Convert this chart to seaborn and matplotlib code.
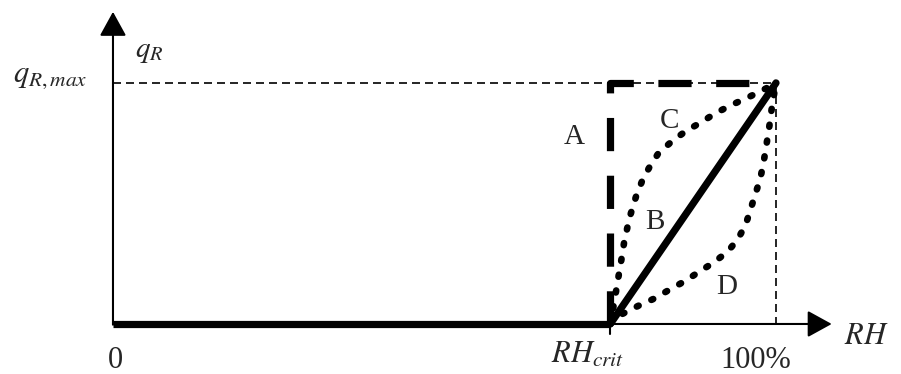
import matplotlib
matplotlib.use('Agg')

import matplotlib.pyplot as plt
import seaborn as sns

sns.set_theme(style='white')
plt.rcParams['font.family'] = ['Liberation Serif', 'DejaVu Serif']
plt.rcParams['mathtext.fontset'] = 'stix'

# values (RH in %, qR as fraction of qR,max)
rh_crit = 75
rh_max = 100

rh_a = [75, 75, 100]
q_a = [0, 1, 1]

rh_b = [75, 100]
q_b = [0, 1]

rh_c = [75, 75.6, 76.2, 76.7, 77.1, 77.9, 78.9, 79.9, 80.9, 82.3,
        84.4, 86.4, 88.9, 90.9, 93.4, 95.8, 98.7, 100]
q_c = [0, 0.09, 0.19, 0.27, 0.34, 0.44, 0.53, 0.6, 0.65, 0.71,
       0.76, 0.8, 0.84, 0.875, 0.91, 0.94, 0.98, 1]

rh_d = [75, 76.7, 79.2, 81.6, 84.1, 86.4, 88.3, 90.6, 92.7, 94.2,
        95.4, 96.1, 96.9, 97.6, 98.1, 98.5, 98.9, 99.2, 99.5, 100]
q_d = [0, 0.04, 0.075, 0.105, 0.145, 0.18, 0.215, 0.255, 0.3, 0.35,
       0.41, 0.47, 0.54, 0.6, 0.665, 0.735, 0.8, 0.865, 0.92, 1]

rh_zero = [0, 75]
q_zero = [0, 0]

fig = plt.figure(figsize=(9.01, 3.74), dpi=100)
ax = fig.add_axes([0, 0, 1, 1])
ax.set_xlim(-17.04, 118.85)
ax.set_ylim(-0.2075, 1.344)
ax.axis('off')

#   axes with arrows
arrow = dict(arrowstyle='-|>,head_length=1.0,head_width=0.55', lw=1.5,
             color='black', shrinkA=0, shrinkB=0, mutation_scale=15)
ax.annotate('', xy=(0, 1.295), xytext=(0, -0.003), arrowprops=arrow)
ax.annotate('', xy=(108.4, 0), xytext=(0, 0), arrowprops=arrow)
ax.plot([rh_crit, rh_crit], [0, -0.042], color='black', lw=1.5)

#   thin guide lines
sns.lineplot(x=[0, rh_max], y=[1, 1], color='black', lw=1.2,
             linestyle=(0, (4.8, 3)), estimator=None, sort=False, ax=ax)
sns.lineplot(x=[rh_max, rh_max], y=[1, 0], color='black', lw=1.2,
             linestyle=(0, (4.8, 3)), estimator=None, sort=False, ax=ax)

#   curves
sns.lineplot(x=rh_zero, y=q_zero, color='black', lw=5.2,
             estimator=None, sort=False, ax=ax, solid_capstyle='butt')
sns.lineplot(x=rh_a, y=q_a, color='black', lw=5.2, linestyle=(0, (4.6, 3.4)),
             estimator=None, sort=False, ax=ax, dash_capstyle='butt')
sns.lineplot(x=rh_b, y=q_b, color='black', lw=5.2,
             estimator=None, sort=False, ax=ax, solid_capstyle='round')
for rh, q in [(rh_c, q_c), (rh_d, q_d)]:
    sns.lineplot(x=rh, y=q, color='black', lw=4.8, linestyle=(0, (0.3, 2.1)),
                 estimator=None, sort=False, ax=ax, dash_capstyle='round')

#   labels
ax.text(3.3, 1.13, r'$q_R$', fontsize=21, ha='left', va='center')
ax.text(-3.8, 1.025, r'$q_{R,max}$', fontsize=22, ha='right', va='center')
ax.text(0.3, -0.183, '0', fontsize=22, ha='center', va='baseline')
ax.text(71.6, -0.16, r'$RH_{crit}$', fontsize=22, ha='center', va='baseline')
ax.text(97.0, -0.183, '100%', fontsize=22, ha='center', va='baseline')
ax.text(113.6, -0.085, r'$RH$', fontsize=22, ha='center', va='baseline')

ax.text(69.5, 0.776, 'A', fontsize=21, ha='center', va='center')
ax.text(81.75, 0.423, 'B', fontsize=21, ha='center', va='center')
ax.text(84.0, 0.842, 'C', fontsize=21, ha='center', va='center')
ax.text(92.5, 0.154, 'D', fontsize=21, ha='center', va='center')

plt.savefig('out.png', dpi=100)
